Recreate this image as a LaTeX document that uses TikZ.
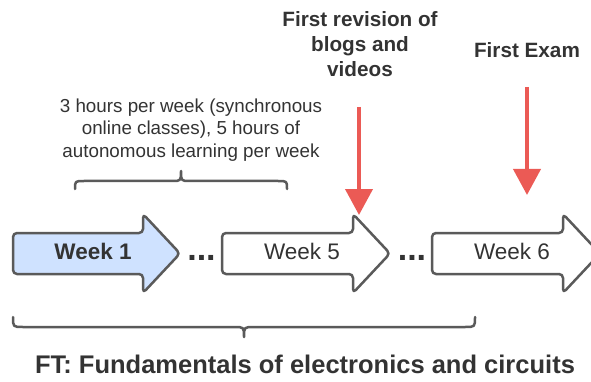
\documentclass[tikz,border=0pt]{standalone}
\usepackage{fontspec}
\setmainfont{Liberation Sans}
\usetikzlibrary{arrows.meta}
\definecolor{txt}{HTML}{333333}
\definecolor{edgegray}{HTML}{5A5A5A}
\definecolor{wkfill}{HTML}{CFE2FF}
\definecolor{redarr}{HTML}{EB5A55}
\begin{document}
\begin{tikzpicture}[x=1pt,y=-1pt,
  wkshape/.style={draw=edgegray, line width=2.5pt, rounded corners=4pt, line join=round},
  wklabel/.style={text=txt, anchor=base, inner sep=0pt, font=\fontsize{22.5}{26}\selectfont},
  dotlabel/.style={text=txt, anchor=base, inner sep=0pt, font=\bfseries\fontsize{34}{34}\selectfont},
  note/.style={text=txt, align=center, inner sep=0pt, font=\fontsize{18.8}{22.6}\selectfont},
  milestone/.style={text=txt, align=center, inner sep=0pt, font=\bfseries\fontsize{20.7}{25}\selectfont},
  titlelabel/.style={text=txt, anchor=base, inner sep=0pt, font=\bfseries\fontsize{25.5}{30}\selectfont},
  redline/.style={draw=redarr, line width=4pt, -{Triangle[width=27pt,length=26pt]}},
  bracepath/.style={draw=edgegray, line width=2.5pt, line cap=round, line join=round}]
\useasboundingbox (0,0) rectangle (591,382);

% week arrows
\path[wkshape, fill=wkfill] (13,233) -- (143,233) -- (143,214) -- (180,253.5) -- (143,293) -- (143,274) -- (13,274) -- cycle;
\path[wkshape, fill=white] (222,233) -- (353,233) -- (353,214) -- (390,253.5) -- (353,293) -- (353,274) -- (222,274) -- cycle;
\path[wkshape, fill=white] (432,233) -- (563,233) -- (563,214) -- (600,253.5) -- (563,293) -- (563,274) -- (432,274) -- cycle;

\node[wklabel, font=\bfseries\fontsize{22.5}{26}\selectfont] (w1) at (93,259) {Week 1};
\node[wklabel] (w5) at (302,259) {Week 5};
\node[wklabel] (w6) at (512,259) {Week 6};

\node[dotlabel] (d1) at (201.5,260.5) {...};
\node[dotlabel] (d2) at (412,260.5) {...};

% note and top brace
\node[note] (hours) at (191,130) {3 hours per week (synchronous\\online classes), 5 hours of\\autonomous learning per week};
\coordinate (tbl) at (75,189);
\coordinate (tbt) at (181,171);
\coordinate (tbr) at (287,189);
\path[bracepath] (tbl) .. controls (75,181) .. (84,181) -- (172,181) .. controls (181,181) .. (tbt)
  .. controls (181,181) .. (190,181) -- (278,181) .. controls (287,181) .. (tbr);

% milestones
\node[milestone] (rev) at (360,44) {First revision of\\blogs and\\videos};
\node[milestone, anchor=base] (exam) at (527,58) {First Exam};
\coordinate (revtop) at (359,107);
\coordinate (revtip) at (359,215);
\coordinate (examtop) at (527,87);
\coordinate (examtip) at (527,195);
\draw[redline] (revtop) -- (revtip);
\draw[redline] (examtop) -- (examtip);

% bottom brace and title
\coordinate (bbl) at (13,317);
\coordinate (bbt) at (244,337);
\coordinate (bbr) at (475,317);
\path[bracepath] (bbl) .. controls (13,327) .. (23,327) -- (234,327) .. controls (244,327) .. (bbt)
  .. controls (244,327) .. (254,327) -- (465,327) .. controls (475,327) .. (bbr);
\node[titlelabel] (title) at (305,373) {FT: Fundamentals of electronics and circuits};
\end{tikzpicture}
\end{document}
